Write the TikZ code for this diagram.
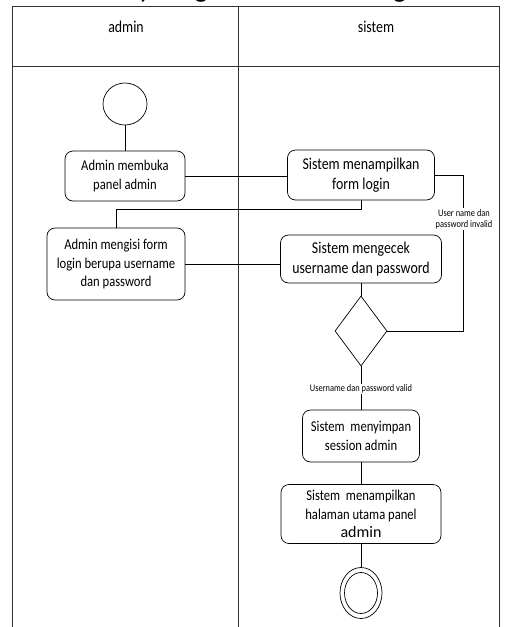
\documentclass[tikz,border=0pt]{standalone}
\usepackage{fontspec}
\setmainfont{Carlito}
\newfontfamily\narrowfont[FakeStretch=0.84]{Carlito}
\usetikzlibrary{shapes.geometric}

\begin{document}
\begin{tikzpicture}[x=1pt,y=-1pt,
  lane/.style={draw=black!80, line width=0.9pt},
  act/.style={draw, line width=0.7pt, rounded corners=8pt, align=center,
    inner sep=0pt, font=\narrowfont\fontsize{15}{18.5}\selectfont},
  bigact/.style={act, font=\narrowfont\fontsize{16.5}{20.5}\selectfont},
  flow/.style={draw, line width=0.7pt},
  guard/.style={fill=white, inner sep=1pt, align=center,
    font=\narrowfont\fontsize{10}{11}\selectfont},
  lanehead/.style={font=\narrowfont\fontsize{16.5}{18}\selectfont},
]
\useasboundingbox (0,0) rectangle (504,627);

% title and swimlane frame
\begin{scope}
  \clip (0,0) rectangle (504,627);
  \node[anchor=base, font=\fontsize{28}{30}\selectfont] (title) at (247,-3)
    {Activity Diagram Halaman Login};
  \draw[lane] (12,640) -- (12,6) -- (499,6) -- (499,640);
  \draw[lane] (12,66) -- (499,66);
  \draw[lane] (238,6) -- (238,640);
\end{scope}
\node[lanehead] (hadmin) at (126,27) {admin};
\node[lanehead] (hsistem) at (376,27) {sistem};

% activities
\node[draw, ellipse, line width=0.7pt, minimum width=44, minimum height=42,
  inner sep=0pt] (start) at (125,104) {};
\node[act, minimum width=120, minimum height=50] (a1) at (125,176)
  {Admin membuka\\panel admin};
\node[bigact, minimum width=147, minimum height=50] (s1) at (361,175)
  {Sistem menampilkan\\form login};
\node[act, minimum width=138, minimum height=72] (a2) at (116,264)
  {Admin mengisi form\\login berupa username\\dan password};
\node[bigact, minimum width=161, minimum height=48] (s2) at (361,259)
  {Sistem mengecek\\username dan password};
\node[draw, diamond, line width=0.7pt, minimum width=52, minimum height=70,
  inner sep=0pt] (dec) at (361,331) {};
\node[act, minimum width=117, minimum height=52] (s3) at (361,436)
  {Sistem\ \ menyimpan\\session admin};
\node[act, minimum width=160, minimum height=59] (s4) at (361,514)
  {Sistem\ \ menampilkan\\halaman utama panel\\{\rmfamily\fontsize{16}{16}\selectfont admin}};
\node[draw, ellipse, line width=0.7pt, minimum width=42, minimum height=51,
  inner sep=0pt] (end) at (361,593) {};
\draw[line width=0.7pt] (end.center) ellipse [x radius=16.5, y radius=20.5];

% control flow
\draw[flow] (start) -- (a1);
\draw[flow] (a1.east) -- (a1.east -| s1.west);
\draw[flow] (s1.south) -- ++(0,9) -| (a2.north);
\draw[flow] (a2.east) -- (a2.east -| s2.west);
\draw[flow] (s2) -- (dec);
\draw[flow] (dec.east) -- ++(76,0) |- (s1.east);
\draw[flow] (dec) -- (s3);
\draw[flow] (s3) -- (s4);
\draw[flow] (s4) -- (end);

% guards
\node[guard] (invalid) at (464,219) {User name dan\\password invalid};
\node[guard] (valid) at (361,389) {Username dan password valid};
\end{tikzpicture}
\end{document}
